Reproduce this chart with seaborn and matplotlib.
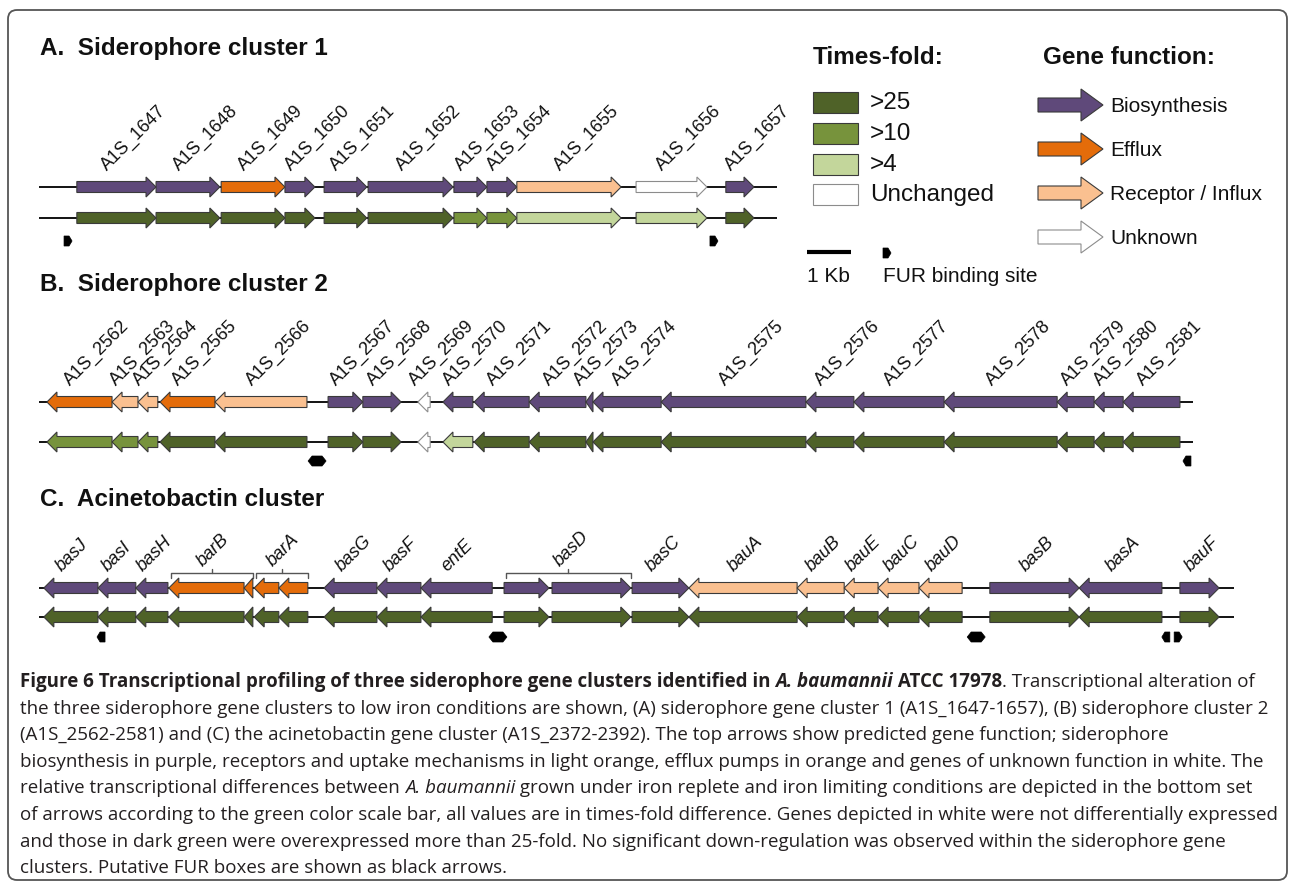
import matplotlib
matplotlib.use("Agg")
import matplotlib.pyplot as plt
from matplotlib.patches import Polygon, Rectangle, FancyBboxPatch
from matplotlib.font_manager import FontProperties
import seaborn as sns

# ---------------- data ----------------
# gene start / end in kb from the left end of each cluster backbone
# strand: 1 forward, -1 reverse
# function: B biosynthesis, E efflux, R receptor / influx, U unknown

# A. Siderophore cluster 1
c1_names = ["A1S_1647", "A1S_1648", "A1S_1649", "A1S_1650", "A1S_1651", "A1S_1652",
            "A1S_1653", "A1S_1654", "A1S_1655", "A1S_1656", "A1S_1657"]
c1_start = [0.86, 2.66, 4.14, 5.59, 6.48, 7.48, 9.43, 10.18, 10.86, 13.57, 15.61]
c1_end = [2.66, 4.11, 5.59, 6.27, 7.45, 9.41, 10.18, 10.86, 13.23, 15.18, 16.25]
c1_strand = [1, 1, 1, 1, 1, 1, 1, 1, 1, 1, 1]
c1_func = ["B", "B", "E", "B", "B", "B", "B", "B", "R", "U", "B"]
c1_fold = [">25", ">25", ">25", ">25", ">25", ">25", ">10", ">10", ">4", ">4", ">25"]
c1_length = 16.77
c1_fur = [0.66, 15.34]
c1_fur_dir = [1, 1]

# B. Siderophore cluster 2
c2_names = ["A1S_2562", "A1S_2563", "A1S_2564", "A1S_2565", "A1S_2566", "A1S_2567",
            "A1S_2568", "A1S_2569", "A1S_2570", "A1S_2571", "A1S_2572", "A1S_2573",
            "A1S_2574", "A1S_2575", "A1S_2576", "A1S_2577", "A1S_2578", "A1S_2579",
            "A1S_2580", "A1S_2581"]
c2_start = [0.18, 1.66, 2.25, 2.75, 4.00, 6.57, 7.36, 8.61, 9.18, 9.89, 11.14, 12.43,
            12.59, 14.14, 17.43, 18.52, 20.57, 23.14, 23.98, 24.64]
c2_end = [1.66, 2.25, 2.70, 4.00, 6.09, 7.36, 8.23, 8.89, 9.86, 11.14, 12.43, 12.59,
          14.14, 17.43, 18.52, 20.57, 23.14, 23.98, 24.64, 25.93]
c2_strand = [-1, -1, -1, -1, -1, 1, 1, -1, -1, -1, -1, -1, -1, -1, -1, -1, -1, -1, -1, -1]
c2_func = ["E", "R", "R", "E", "R", "B", "B", "U", "B", "B", "B", "B", "B", "B", "B",
           "B", "B", "B", "B", "B"]
c2_fold = [">10", ">10", ">10", ">25", ">25", ">25", ">25", "Unchanged", ">4", ">25",
           ">25", ">25", ">25", ">25", ">25", ">25", ">25", ">25", ">25", ">25"]
c2_length = 26.23
c2_fur = [6.32, 26.09]
c2_fur_dir = [0, -1]

# C. Acinetobactin cluster
c3_names = ["basJ", "basI", "basH", "", "", "", "", "basG", "basF", "entE", "", "",
            "basC", "bauA", "bauB", "bauE", "bauC", "bauD", "basB", "basA", "bauF"]
c3_start = [0.11, 1.34, 2.20, 2.95, 4.66, 4.89, 5.45, 6.48, 7.68, 8.68, 10.57, 11.66,
            13.48, 14.77, 17.23, 18.30, 19.07, 20.00, 21.61, 23.64, 25.93]
c3_end = [1.34, 2.20, 2.93, 4.66, 4.86, 5.45, 6.11, 7.68, 8.68, 10.30, 11.59, 13.45,
          14.77, 17.23, 18.30, 19.07, 20.00, 20.98, 23.64, 25.52, 26.82]
c3_strand = [-1, -1, -1, -1, -1, -1, -1, -1, -1, -1, 1, 1, 1, -1, -1, -1, -1, -1, 1, -1, 1]
c3_func = ["B", "B", "B", "E", "E", "E", "E", "B", "B", "B", "B", "B", "B", "R", "R",
           "R", "R", "R", "B", "B", "B"]
c3_fold = [">25"] * 21
c3_groups = [("barB", 3, 4), ("barA", 5, 6), ("basD", 10, 11)]
c3_length = 27.16
c3_fur = [1.41, 10.43, 21.30, 25.61, 25.89]
c3_fur_dir = [-1, 0, 0, -1, 1]

fold_labels = [">25", ">10", ">4", "Unchanged"]
func_labels = ["Biosynthesis", "Efflux", "Receptor / Influx", "Unknown"]
func_keys = ["B", "E", "R", "U"]

caption = [
    [("Figure 6 Transcriptional profiling of three siderophore gene clusters identified in ", "bold", "normal"),
     ("A. baumannii", "bold", "italic"), (" ATCC 17978", "bold", "normal"),
     (". Transcriptional alteration of", "normal", "normal")],
    [("the three siderophore gene clusters to low iron conditions are shown, (A) siderophore gene cluster 1 "
      "(A1S_1647-1657), (B) siderophore cluster 2", "normal", "normal")],
    [("(A1S_2562-2581) and (C) the acinetobactin gene cluster (A1S_2372-2392). The top arrows show predicted "
      "gene function; siderophore", "normal", "normal")],
    [("biosynthesis in purple, receptors and uptake mechanisms in light orange, efflux pumps in orange and "
      "genes of unknown function in white. The", "normal", "normal")],
    [("relative transcriptional differences between ", "normal", "normal"), ("A. baumannii", "normal", "italic"),
     (" grown under iron replete and iron limiting conditions are depicted in the bottom set", "normal", "normal")],
    [("of arrows according to the green color scale bar, all values are in times-fold difference. Genes "
      "depicted in white were not differentially expressed", "normal", "normal")],
    [("and those in dark green were overexpressed more than 25-fold. No significant down-regulation was "
      "observed within the siderophore gene", "normal", "normal")],
    [("clusters. Putative FUR boxes are shown as black arrows.", "normal", "normal")],
]

# ---------------- style ----------------
sns.set_theme(style="white")
plt.rcParams["font.family"] = ["Liberation Sans", "DejaVu Sans"]

FUNC_COLORS = {"B": "#5F497A", "E": "#E46C0A", "R": "#FAC090", "U": "#FFFFFF"}
FOLD_COLORS = {">25": "#4F6228", ">10": "#77933C", ">4": "#C3D69B", "Unchanged": "#FFFFFF"}
TXT = "#111111"

KB = 44.0    # pixels per kb (scale bar)
X0 = 39.0    # pixel x of backbone start
W, H = 1290, 883

fig = plt.figure(figsize=(W / 100, H / 100), dpi=100)
ax = fig.add_axes([0, 0, 1, 1])
ax.set_xlim(-X0 / KB, (W - X0) / KB)
ax.set_ylim(H, 0)
ax.axis("off")
ov = fig.add_axes([0, 0, 1, 1])
ov.set_xlim(0, W)
ov.set_ylim(H, 0)
ov.axis("off")


def arrow_poly(x0, x1, strand, y, body, head, hl):
    h = min(hl, x1 - x0)
    if strand > 0:
        tail, base, tip = x0, x1 - h, x1
    else:
        tail, base, tip = x1, x0 + h, x0
    return [(tail, y - body), (base, y - body), (base, y - head), (tip, y),
            (base, y + head), (base, y + body), (tail, y + body)]


def fur_poly(x, d, y, unit):
    if d == 0:
        pts = [(-9, 0), (-5, -5), (5, -5), (9, 0), (5, 5), (-5, 5)]
    else:
        pts = [(-4, -5), (1, -5), (4, 0), (1, 5), (-4, 5)]
        pts = [(px * d, py) for px, py in pts]
    return [(x + px / unit, y + py) for px, py in pts]


def draw_cluster(title, title_y, names, starts, ends, strands, funcs, folds, length,
                 fur, fur_dir, rows, italic=False, groups=()):
    y_top, y_bot, y_fur = rows
    ov.text(40, title_y, title, fontsize=17.5, fontweight="bold", va="center", color=TXT)
    for y, cols in ((y_top, [FUNC_COLORS[f] for f in funcs]),
                    (y_bot, [FOLD_COLORS[f] for f in folds])):
        ax.plot([0, length], [y, y], color="black", lw=1.3, zorder=1, solid_capstyle="butt")
        for s, e, d, c in zip(starts, ends, strands, cols):
            ec = "#8C8C8C" if c == "#FFFFFF" else "#3A3A3A"
            ax.add_patch(Polygon(arrow_poly(s, e, d, y, 5.5, 10, 10 / KB), closed=True,
                                 fc=c, ec=ec, lw=0.8, zorder=2))
    style = "italic" if italic else "normal"
    for n, s, e in zip(names, starts, ends):
        if n:
            ax.text((s + e) / 2 - 9 / KB, y_top - 16, n, rotation=45, rotation_mode="anchor",
                    ha="left", va="baseline", fontsize=13, fontstyle=style, color=TXT)
    for label, i, j in groups:
        xs, xe = starts[i] + 2 / KB, ends[j]
        xm = (xs + xe) / 2
        ax.plot([xs, xs, xe, xe], [y_top - 10, y_top - 15, y_top - 15, y_top - 10],
                color="#555555", lw=1, zorder=1)
        ax.plot([xm, xm], [y_top - 15, y_top - 19], color="#555555", lw=1, zorder=1)
        ax.text(xm - 9 / KB, y_top - 21, label, rotation=45, rotation_mode="anchor",
                ha="left", va="baseline", fontsize=13, fontstyle=style, color=TXT)
    for p, d in zip(fur, fur_dir):
        ax.add_patch(Polygon(fur_poly(p, d, y_fur, KB), closed=True, fc="black", ec="black",
                             lw=0.5, zorder=3))


draw_cluster("A.  Siderophore cluster 1", 48, c1_names, c1_start, c1_end, c1_strand, c1_func,
             c1_fold, c1_length, c1_fur, c1_fur_dir, (187, 218, 241))
draw_cluster("B.  Siderophore cluster 2", 285, c2_names, c2_start, c2_end, c2_strand, c2_func,
             c2_fold, c2_length, c2_fur, c2_fur_dir, (402, 442, 461))
draw_cluster("C.  Acinetobactin cluster", 500, c3_names, c3_start, c3_end, c3_strand, c3_func,
             c3_fold, c3_length, c3_fur, c3_fur_dir, (588, 617, 637), italic=True, groups=c3_groups)

# ---------------- legends ----------------
ov.text(813, 58, "Times-fold:", fontsize=17.5, fontweight="bold", va="center", color=TXT)
ov.text(1043, 58, "Gene function:", fontsize=17.5, fontweight="bold", va="center", color=TXT)
for i, lab in enumerate(fold_labels):
    top = 92 + i * 30.8
    c = FOLD_COLORS[lab]
    ov.add_patch(Rectangle((813, top), 45, 21, fc=c, ec="#8C8C8C" if c == "#FFFFFF" else "#3A3A3A", lw=0.8))
    ov.text(870, top + 11, lab, fontsize=17.5, va="center", color=TXT)
for i, (k, lab) in enumerate(zip(func_keys, func_labels)):
    y = 105 + i * 44
    c = FUNC_COLORS[k]
    ov.add_patch(Polygon(arrow_poly(1038, 1103, 1, y, 7, 16, 22), closed=True, fc=c,
                         ec="#8C8C8C" if c == "#FFFFFF" else "#3A3A3A", lw=0.8))
    ov.text(1110, y + 1, lab, fontsize=15, va="center", color=TXT)

sb0 = (807 - X0) / KB
ax.plot([sb0, sb0 + 1], [252, 252], color="black", lw=3, solid_capstyle="butt")
ov.text(807, 276, "1 Kb", fontsize=15, va="center", color=TXT)
ov.add_patch(Polygon(fur_poly(887, 1, 253, 1), closed=True, fc="black", ec="black", lw=0.5))
ov.text(883, 276, "FUR binding site", fontsize=15, va="center", color=TXT)

# ---------------- caption ----------------
renderer = fig.canvas.get_renderer()


def seg_width(s, size, weight, style):
    fp = FontProperties(family="Open Sans", size=size, weight=weight, style=style)
    w1 = renderer.get_text_width_height_descent(s + "x", fp, False)[0]
    w0 = renderer.get_text_width_height_descent("x", fp, False)[0]
    return w1 - w0


base = 10.0
widest = max(sum(seg_width(s, base, w, st) for s, w, st in line) for line in caption)
cap_size = base * 1258 / widest
for li, line in enumerate(caption):
    x = 20
    y = 687 + li * 26.6
    for s, w, st in line:
        ov.text(x, y, s, fontsize=cap_size, fontweight=w, fontstyle=st, family="Open Sans",
                va="baseline", ha="left", color="#231F20")
        x += seg_width(s, cap_size, w, st)

ov.add_patch(FancyBboxPatch((8, 10), 1279, 870, boxstyle="round,pad=0,rounding_size=9",
                            fc="none", ec="#555555", lw=1.3))

fig.savefig("out.png", dpi=100)
